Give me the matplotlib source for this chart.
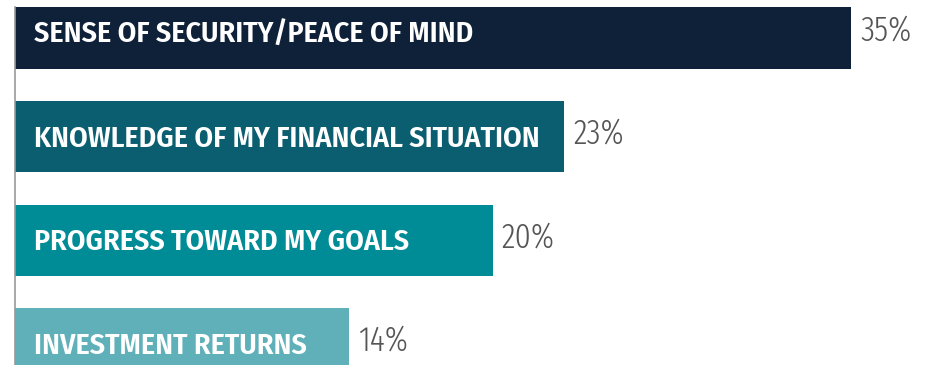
import matplotlib
matplotlib.use("Agg")
import matplotlib.pyplot as plt
from matplotlib import font_manager

categories = [
    "SENSE OF SECURITY/PEACE OF MIND",
    "KNOWLEDGE OF MY FINANCIAL SITUATION",
    "PROGRESS TOWARD MY GOALS",
    "INVESTMENT RETURNS",
]
values = [35, 23, 20, 14]
value_labels = ["35%", "23%", "20%", "14%"]
colors = ["#0e2138", "#0a5e70", "#008c96", "#5fb0b8"]

names = {f.name for f in font_manager.fontManager.ttflist}


def pick(*cands):
    for c in cands:
        if c in names:
            return c
    return "DejaVu Sans"


label_font = pick("Fira Sans Condensed", "Roboto Condensed", "Open Sans Condensed")
value_font = pick("Fira Sans Extra Condensed", "Fira Sans Condensed", "Roboto Condensed")

W, H = 927, 365
fig = plt.figure(figsize=(W / 100, H / 100), dpi=100)
ax = fig.add_axes([14.5 / W, 0, 1 - 14.5 / W, 1 - 7 / H])

px_per_unit = 23.9
ax.set_xlim(0, (W - 14.5) / px_per_unit)
pitch = 103.5
ax.set_ylim((365 - 33) / pitch, (7 - 33) / pitch)

ypos = list(range(len(values)))
ax.barh(ypos, values, height=71 / pitch, color=colors, left=0)

for y, cat, v, lab in zip(ypos, categories, values, value_labels):
    ax.text(20 / px_per_unit, y + 2 / pitch, cat, color="white", fontsize=21.5,
            fontweight=600, family=label_font, va="center", ha="left")
    ax.text(v + 9 / px_per_unit, y - 2.5 / pitch, lab, color="#555555",
            fontsize=25, fontweight=300, family=value_font, va="center", ha="left")

for s in ["top", "right", "bottom"]:
    ax.spines[s].set_visible(False)
ax.spines["left"].set_color("#9a9a9a")
ax.spines["left"].set_linewidth(1.2)
ax.set_xticks([])
ax.set_yticks([])

fig.savefig("out.png", dpi=100, facecolor="white")
